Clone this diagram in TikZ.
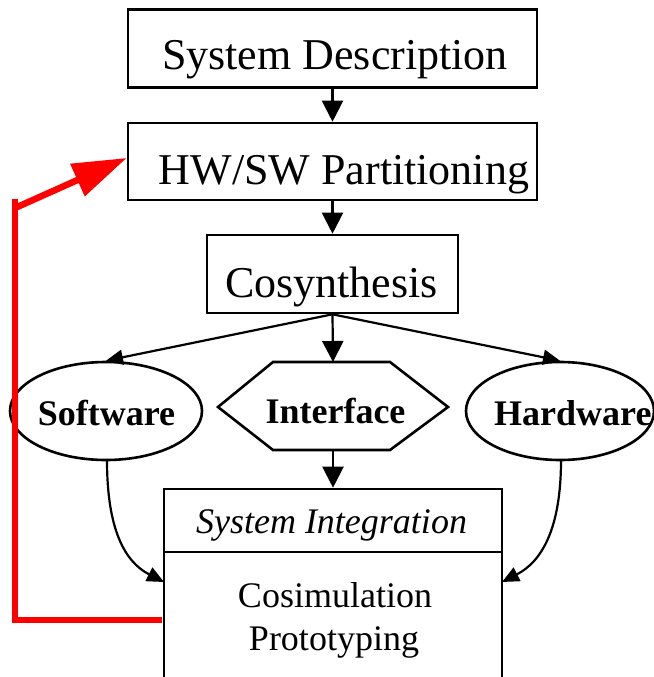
\documentclass[tikz,border=0pt]{standalone}
\usepackage{fontspec}
\setmainfont{Liberation Serif}
\usetikzlibrary{arrows.meta,shapes.geometric}
\begin{document}
\begin{tikzpicture}[x=1pt,y=-1pt,
  box/.style={draw, line width=2.6pt, inner sep=0pt},
  oval/.style={draw, ellipse, line width=2.6pt, inner sep=0pt, minimum width=188pt, minimum height=98pt},
  big/.style={font=\fontsize{44}{50}\selectfont, anchor=base, inner sep=0pt},
  mid/.style={font=\fontsize{36}{43}\selectfont, anchor=base, inner sep=0pt},
  lab/.style={font=\fontsize{36}{43}\selectfont\bfseries, anchor=base, inner sep=0pt},
  arr/.style={line width=2.2pt, -{Triangle[length=21pt,width=21pt]}},
  sarr/.style={line width=2.2pt, -{Triangle[length=17pt,width=15pt]}},
  fb/.style={red, line width=6.5pt}]
\useasboundingbox (0,0) rectangle (653,677);

% boxes
\node[box, minimum width=409pt, minimum height=78pt] (sd) at (332.5,48.5) {};
\node[big] (sdt) at (335,70) {System Description};
\node[box, minimum width=409pt, minimum height=77pt] (hw) at (332.5,161.5) {};
\node[big] (hwt) at (344,184) {HW/SW Partitioning};
\node[box, minimum width=251pt, minimum height=78pt] (cs) at (332.5,274) {};
\node[big] (cst) at (331.5,297) {Cosynthesis};

% software / hardware
\node[oval, minimum width=192pt] (sw) at (106,411) {};
\node[lab] (swt) at (106.5,425) {Software};
\node[oval] (hwe) at (560,411) {};
\node[lab, anchor=base west] (hwet) at (494,425) {Hardware};

% interface hexagon
\coordinate (h1) at (218,407);
\coordinate (h2) at (273,362);
\coordinate (h3) at (390,362);
\coordinate (h4) at (448,407);
\coordinate (h5) at (390,450);
\coordinate (h6) at (273,450);
\coordinate (iftop) at (333,362);
\coordinate (ifbot) at (333,450);
\draw[line width=2.6pt] (h1) -- (h2) -- (h3) -- (h4) -- (h5) -- (h6) -- cycle;
\node[lab] (ift) at (335.5,423) {Interface};

% system integration
\node[box, minimum width=338pt, minimum height=211pt] (si) at (333,594.5) {};
\coordinate (dl) at (164,552);
\coordinate (dr) at (502,552);
\draw[line width=2.6pt] (dl) -- (dr);
\node[mid, font=\fontsize{36}{43}\selectfont\itshape] (sit) at (331.5,533) {System Integration};
\node[mid] (cot) at (335,607) {Cosimulation};
\node[mid] (prt) at (334,650) {Prototyping};
\coordinate (siL) at (164,582);
\coordinate (siR) at (502,582);
\coordinate (swb) at (107,460);
\coordinate (hwb) at (561,460);

% arrows
\draw[arr] (sd.south) -- (hw.north);
\draw[arr] (hw.south) -- (cs.north);
\draw[sarr] (cs.south) -- (sw.north);
\draw[arr] (cs.south) -- (iftop);
\draw[sarr] (cs.south) -- (hwe.north);
\draw[arr] (ifbot) -- (si.north);
\draw[sarr] (swb) .. controls (107,530) and (125,562) .. (siL);
\draw[sarr] (hwb) .. controls (561,530) and (541,562) .. (siR);

% red feedback
\coordinate (r1) at (162,620);
\coordinate (r2) at (15,620);
\coordinate (r3) at (15,199);
\coordinate (r4) at (15,208);
\draw[fb] (r1) -- (r2) -- (r3);
\draw[fb, -{Triangle[length=54pt,width=34pt]}] (r4) -- ([yshift=3.5pt]hw.west);
\end{tikzpicture}
\end{document}
